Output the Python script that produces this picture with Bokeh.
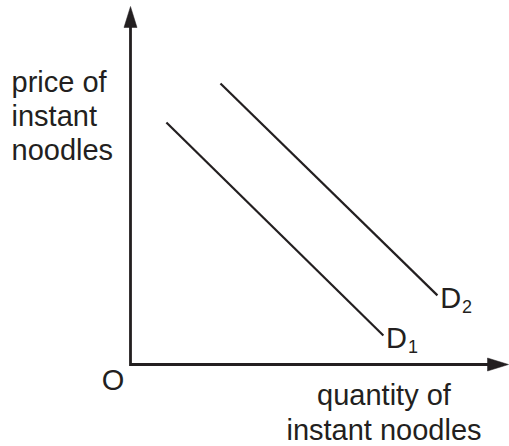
from bokeh.plotting import figure
from bokeh.models import Range1d, ColumnDataSource
from bokeh.embed import file_html
from bokeh.resources import INLINE
from bokeh.core.properties import value

# ---- data: demand curves in (quantity, price) units, axes run 0..10 ----
axis_max_q = 10.0
axis_max_p = 10.0
d1_quantity = [0.95, 6.69]
d1_price = [6.76, 0.81]
d2_quantity = [2.38, 8.12]
d2_price = [7.85, 1.93]
curve_names = ["D", "D"]
curve_subs = ["1", "2"]
y_label_lines = ["price of", "instant", "noodles"]
x_label_lines = ["quantity of", "instant noodles"]
origin_label = "O"

# ---- layout (pixels) ----
W, H = 509, 446
PX_X = 37.8          # pixels per quantity unit
PX_Y = 35.8          # pixels per price unit
ORIGIN_X = 130       # origin position inside the figure, px from left
ORIGIN_Y = 364       # origin position inside the figure, px from top
BIG = 29             # main font size, px
SMALL = 18           # subscript font size, px
BASE_FIX = 0.345     # svg baseline correction, in em

def fx(px):
    return (px - ORIGIN_X) / PX_X

def fy(py):
    return (ORIGIN_Y - py) / PX_Y

INK = "#231f20"
FONT = value("Liberation Sans")

p = figure(width=W, height=H, output_backend="svg", toolbar_location=None,
           x_range=Range1d(fx(0), fx(W)), y_range=Range1d(fy(H), fy(0)),
           min_border=0, outline_line_color=None, background_fill_color="white",
           border_fill_color="white")
p.xaxis.visible = False
p.yaxis.visible = False
p.grid.visible = False

# ---- axes with arrow heads ----
head_len = 21.0
head_half = 6.5
xb = axis_max_q - head_len / PX_X * 0.5
yb = axis_max_p - head_len / PX_Y * 0.5
p.line([0, 0, xb], [yb, 0, 0], line_color=INK, line_width=2.8, line_join="miter")
# vertical arrow head
p.patch([0, -head_half / PX_X, head_half / PX_X],
        [axis_max_p, axis_max_p - head_len / PX_Y, axis_max_p - head_len / PX_Y],
        fill_color=INK, line_color=INK, line_width=0.5)
# horizontal arrow head
p.patch([axis_max_q, axis_max_q - head_len / PX_X, axis_max_q - head_len / PX_X],
        [0, head_half / PX_Y, -head_half / PX_Y],
        fill_color=INK, line_color=INK, line_width=0.5)

# ---- demand curves ----
p.line(d1_quantity, d1_price, line_color=INK, line_width=2.2)
p.line(d2_quantity, d2_price, line_color=INK, line_width=2.2)

ends = ColumnDataSource(dict(x=[d1_quantity[-1], d2_quantity[-1]],
                             y=[d1_price[-1], d2_price[-1]],
                             name=curve_names, sub=curve_subs))
p.text(x="x", y="y", text="name", source=ends, x_offset=2.7,
       y_offset=12.5 - BASE_FIX * BIG,
       text_font=FONT, text_font_size=f"{BIG}px", text_color=INK,
       text_align="left", text_baseline="alphabetic")
p.text(x="x", y="y", text="sub", source=ends, x_offset=24.5,
       y_offset=17.5 - BASE_FIX * SMALL,
       text_font=FONT, text_font_size=f"{SMALL}px", text_color=INK,
       text_align="left", text_baseline="alphabetic")

# ---- axis titles ----
shift = BASE_FIX * BIG
y_lab_base = [92, 126, 160]
p.text(x=[fx(11)] * len(y_label_lines), y=[fy(b - shift) for b in y_lab_base],
       text=y_label_lines, text_font=FONT, text_font_size=f"{BIG}px",
       text_color=INK, text_align="left", text_baseline="alphabetic")

x_lab_base = [405, 440]
p.text(x=[fx(383.5)] * len(x_label_lines), y=[fy(b - shift) for b in x_lab_base],
       text=x_label_lines, text_font=FONT, text_font_size=f"{BIG}px",
       text_color=INK, text_align="center", text_baseline="alphabetic")

p.text(x=[fx(112.5)], y=[fy(389.5 - shift)], text=[origin_label], text_font=FONT,
       text_font_size=f"{BIG}px", text_color=INK, text_align="center",
       text_baseline="alphabetic")

open("out.html", "w").write(file_html(p, INLINE))
